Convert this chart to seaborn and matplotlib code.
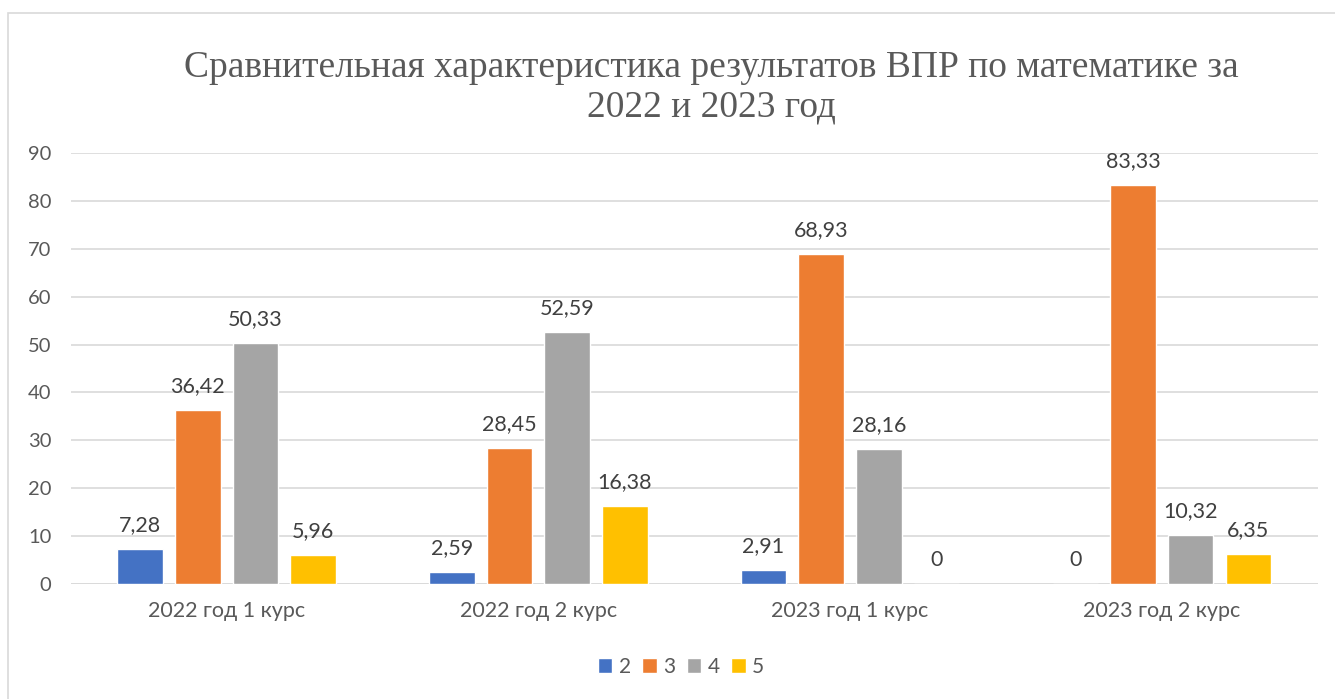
import pandas as pd
import seaborn as sns
import matplotlib.pyplot as plt
from matplotlib.patches import Rectangle

# Data
categories = ["2022 год 1 курс", "2022 год 2 курс", "2023 год 1 курс", "2023 год 2 курс"]
grades = ["2", "3", "4", "5"]
grade_2 = [7.28, 2.59, 2.91, 0]
grade_3 = [36.42, 28.45, 68.93, 83.33]
grade_4 = [50.33, 52.59, 28.16, 10.32]
grade_5 = [5.96, 16.38, 0, 6.35]
colors = ["#4472C4", "#ED7D31", "#A5A5A5", "#FFC000"]

title = "Сравнительная характеристика результатов ВПР по математике за\n2022 и 2023 год"

rows = []
for grade, vals in zip(grades, [grade_2, grade_3, grade_4, grade_5]):
    for cat, v in zip(categories, vals):
        rows.append({"category": cat, "grade": grade, "value": v})
df = pd.DataFrame(rows)

sns.set_style("white")
plt.rcParams["font.family"] = ["Lato", "DejaVu Sans"]

fig = plt.figure(figsize=(13.35, 6.99), dpi=100)
ax = fig.add_axes([0.053, 0.1645, 0.934, 0.6165])

sns.barplot(data=df, x="category", y="value", hue="grade", order=categories,
            hue_order=grades, palette=colors, width=0.74, gap=0.21,
            saturation=1, ax=ax, legend=True)

ax.set_ylim(0, 90)
ax.set_yticks(range(0, 91, 10))
ax.set_xlim(-0.5, 3.5)
ax.grid(axis="y", color="#D9D9D9", linewidth=1.2)
ax.set_axisbelow(True)
for s in ax.spines.values():
    s.set_visible(False)
ax.axhline(0, color="#D9D9D9", linewidth=1.2, zorder=0.5)
ax.tick_params(axis="both", length=0, labelcolor="#595959")
ax.tick_params(axis="x", pad=12, labelsize=15.5)
ax.tick_params(axis="y", pad=14, labelsize=14.5)
ax.set_xlabel("")
ax.set_ylabel("")

def fmt(v):
    return ("%g" % v).replace(".", ",")

for container in ax.containers:
    ax.bar_label(container, labels=[fmt(v) for v in container.datavalues],
                 padding=10, fontsize=15.5, color="#404040")

handles, labels = ax.get_legend_handles_labels()
ax.legend_.remove()
fig.legend(handles, labels, loc="center", bbox_to_anchor=(0.51, 0.046), ncol=4,
           frameon=False, fontsize=15, handlelength=0.7, handleheight=0.7,
           handletextpad=0.3, columnspacing=0.55, labelcolor="#595959")

fig.text(0.533, 0.875, title, ha="center", va="center", fontsize=27,
         family=["Liberation Serif", "DejaVu Serif"], color="#595959",
         linespacing=1.19)

fig.patches.append(Rectangle((0.006, -0.1), 1.2, 1.081, transform=fig.transFigure,
                             fill=False, edgecolor="#D9D9D9", linewidth=1.2))

fig.savefig("out.png", dpi=100)
